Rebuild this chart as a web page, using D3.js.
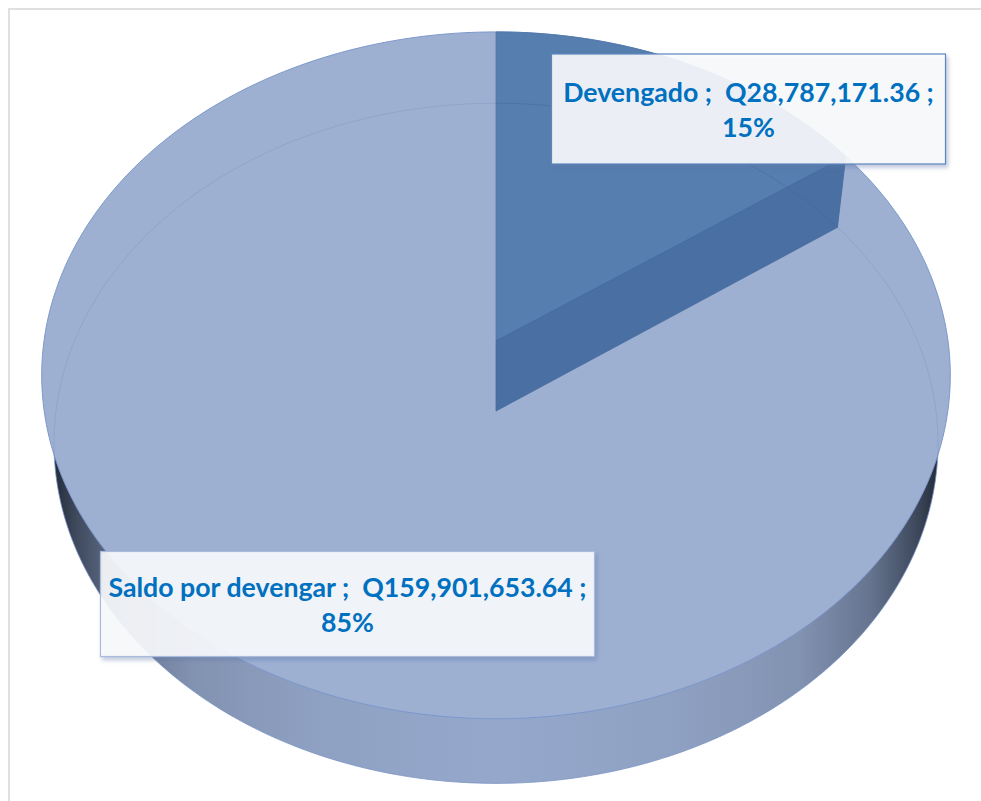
<!DOCTYPE html>
<html>
<head>
<meta charset="utf-8">
<script src="https://cdn.jsdelivr.net/npm/d3@7"></script>
<style>
  html, body { margin: 0; padding: 0; background: #fff; }
  svg { display: block; }
</style>
</head>
<body>
<svg id="chart" width="981" height="801"></svg>
<script>
const categories = ['Devengado', 'Saldo por devengar'];
const amounts = [28787171.36, 159901653.64];
const amountLabels = ['Q28,787,171.36', 'Q159,901,653.64'];
const percentLabels = ['15%', '85%'];

const svg = d3.select('#chart');
const defs = svg.append('defs');

// rim goes dark towards both ends
const rimGrad = defs.append('linearGradient')
  .attr('id', 'rim')
  .attr('gradientUnits', 'userSpaceOnUse')
  .attr('x1', 50).attr('x2', 942).attr('y1', 0).attr('y2', 0);
[[0, '#1f2733'], [0.03, '#3f4a5e'], [0.08, '#66748f'], [0.16, '#8292b1'], [0.3, '#8fa1c3'],
 [0.5, '#95a8cb'], [0.7, '#8fa1c3'], [0.84, '#8292b1'], [0.92, '#66748f'], [0.97, '#3f4a5e'], [1, '#1f2733']]
  .forEach(([o, c]) => rimGrad.append('stop').attr('offset', o).attr('stop-color', c));

const shadow = defs.append('filter').attr('id', 'boxShadow')
  .attr('x', '-5%').attr('y', '-10%').attr('width', '110%').attr('height', '125%');
shadow.append('feDropShadow')
  .attr('dx', 2).attr('dy', 3).attr('stdDeviation', 2)
  .attr('flood-color', '#5a76a8').attr('flood-opacity', 0.45);

const pie = d3.pie().sort(null);
const slices = pie(amounts);
const small = slices[0];

// perspective view of the pie disc, one for the upper face and one for the lower
function disc(cx, cy, rx, ry, p) {
  const project = angle => {
    const a = Math.sin(angle), b = -Math.cos(angle);
    const w = 1 - p * b;
    return [cx + rx * a / w, cy + ry * b / w];
  };
  project.center = [cx, cy];
  return project;
}
const upper = disc(496, 341, 452, 340, 0.1);
const lower = disc(496, 411, 440, 337, 0.095);

const angleStep = 0.01;
const sweep = (start, end) => d3.range(start, end, angleStep).concat([end]);
const line = d3.line();
const fullTurn = sweep(0, 2 * Math.PI);

// chart frame
svg.append('path')
  .attr('d', 'M9,801V9H981')
  .attr('fill', 'none')
  .attr('stroke', '#e0e0e0')
  .attr('stroke-width', 2);

// rim: lower disc silhouette behind the top face
svg.append('path')
  .attr('d', line(fullTurn.map(lower)) + 'Z')
  .attr('fill', 'url(#rim)')
  .attr('stroke', '#7a94c4')
  .attr('stroke-width', 0.8);

// top face
svg.append('path')
  .attr('d', line(fullTurn.map(upper)) + 'Z')
  .attr('fill', '#9db0d2')
  .attr('stroke', '#7b98cb')
  .attr('stroke-width', 1);

// faint outline of the far edge seen through the top face
svg.append('path')
  .attr('d', line(sweep(-1.72, 1.72).map(lower)))
  .attr('fill', 'none')
  .attr('stroke', '#7f97c1')
  .attr('stroke-opacity', 0.6)
  .attr('stroke-width', 0.8);

// small slice: top face
svg.append('path')
  .attr('d', line([upper.center].concat(sweep(small.startAngle, small.endAngle).map(upper))) + 'Z')
  .attr('fill', '#567eae')
  .attr('stroke', '#4f76a8')
  .attr('stroke-width', 0.8);

// small slice: cut wall
svg.append('path')
  .attr('d', line([upper.center, upper(small.endAngle), lower(small.endAngle), lower.center]) + 'Z')
  .attr('fill', '#4a6fa2')
  .attr('stroke', '#456a9c')
  .attr('stroke-width', 0.8);

// far edge again, on top of the slice
svg.append('path')
  .attr('d', line(sweep(0, small.endAngle).map(lower)))
  .attr('fill', 'none')
  .attr('stroke', '#3f6595')
  .attr('stroke-opacity', 0.5)
  .attr('stroke-width', 0.8);

// data labels
const labelBoxes = [
  { x: 551.5, y: 54, w: 394, h: 110, stroke: '#5b86bd' },
  { x: 100.5, y: 551.5, w: 494, h: 105, stroke: '#a9bbdc' }
];
const baselines = [[102, 137], [597, 632]];

const labels = svg.selectAll('g.label')
  .data(categories)
  .join('g')
  .attr('class', 'label');

labels.append('rect')
  .attr('x', (d, i) => labelBoxes[i].x)
  .attr('y', (d, i) => labelBoxes[i].y)
  .attr('width', (d, i) => labelBoxes[i].w)
  .attr('height', (d, i) => labelBoxes[i].h)
  .attr('fill', '#fbfcfd')
  .attr('fill-opacity', 0.89)
  .attr('stroke', (d, i) => labelBoxes[i].stroke)
  .attr('stroke-width', 1.2)
  .attr('filter', 'url(#boxShadow)');

labels.append('text')
  .attr('x', (d, i) => labelBoxes[i].x + labelBoxes[i].w / 2)
  .attr('y', (d, i) => baselines[i][0])
  .attr('text-anchor', 'middle')
  .style('white-space', 'pre')
  .attr('font-family', 'Lato, "Open Sans", sans-serif')
  .attr('font-weight', 700)
  .attr('font-size', 26.7)
  .attr('fill', '#0070c0')
  .text((d, i) => `${d} ;  ${amountLabels[i]} ;`);

labels.append('text')
  .attr('x', (d, i) => labelBoxes[i].x + labelBoxes[i].w / 2)
  .attr('y', (d, i) => baselines[i][1])
  .attr('text-anchor', 'middle')
  .attr('font-family', 'Lato, "Open Sans", sans-serif')
  .attr('font-weight', 700)
  .attr('font-size', 26.7)
  .attr('fill', '#0070c0')
  .text((d, i) => percentLabels[i]);
</script>
</body>
</html>
